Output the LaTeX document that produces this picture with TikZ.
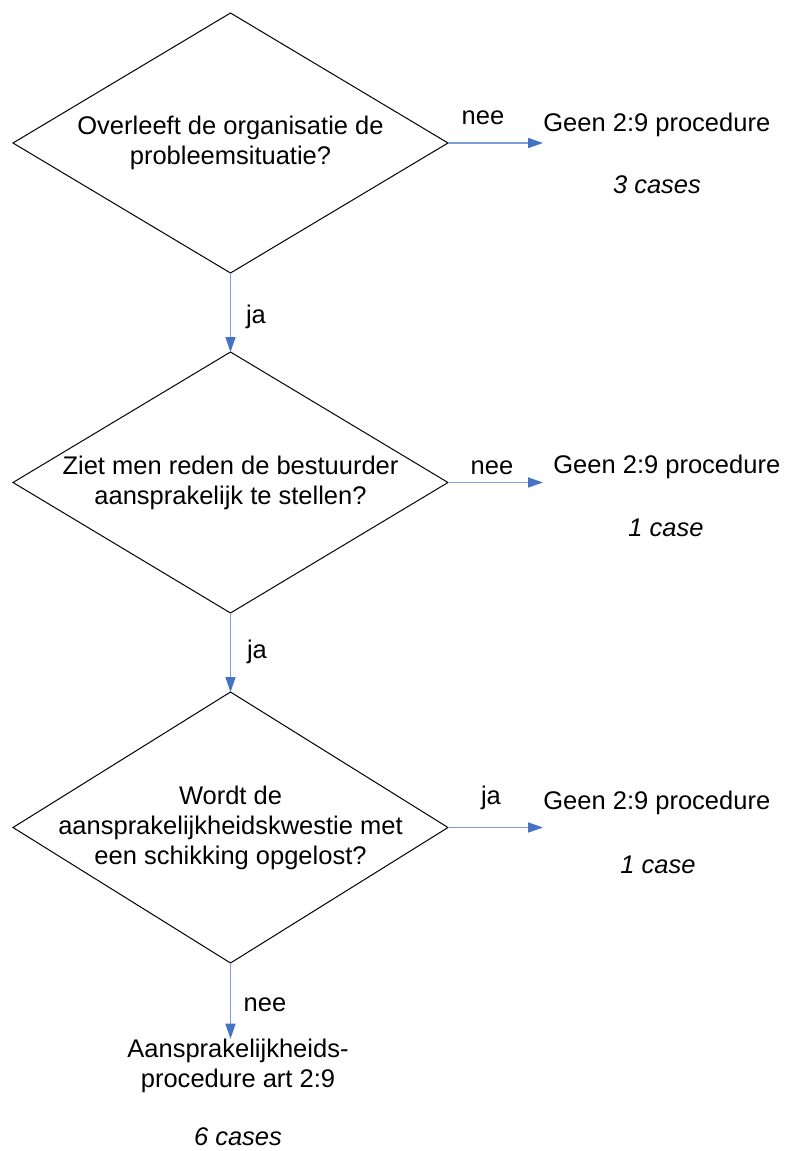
\documentclass[tikz,border=0pt]{standalone}
\usepackage{fontspec}
\setmainfont{Liberation Sans}
\usepackage{tikz}
\usetikzlibrary{arrows.meta,shapes.geometric}
\definecolor{arrowblue}{RGB}{68,114,196}
\definecolor{arrowline}{RGB}{125,158,212}

\begin{document}
\begin{tikzpicture}[x=0.5pt,y=-0.5pt,
  every node/.style={font=\fontsize{12.75}{15}\selectfont, inner sep=0pt},
  decision/.style={diamond, draw, line width=0.5pt, minimum width=217.5pt, minimum height=130pt, outer sep=0pt},
  qtext/.style={align=center},
  casetext/.style={font=\fontsize{12.75}{15}\selectfont\itshape},
  flow/.style={draw=arrowline, line width=0.75pt, -{Triangle[length=7.5pt,width=5pt,color=arrowblue]}}]
\useasboundingbox (0,0) rectangle (785,1151);

% vragen
\node[decision] (q1) at (230.5,143) {};
\node[qtext] (q1t) at (q1) {Overleeft de organisatie de\\probleemsituatie?};
\node[decision, minimum height=130.5pt] (q2) at (230.5,482.5) {};
\node[qtext] (q2t) at (q2) {Ziet men reden de bestuurder\\aansprakelijk te stellen?};
\node[decision, minimum height=135.5pt] (q3) at (230.5,827.5) {};
\node[qtext] (q3t) at (q3) {Wordt de\\aansprakelijkheidskwestie met\\een schikking opgelost?};

% uitkomsten
\node[anchor=west] (r1) at (543,125) {Geen 2:9 procedure};
\node[casetext] (c1) at (657,185) {3 cases};
\node[anchor=west, inner xsep=5pt] (r2) at (543,467) {Geen 2:9 procedure};
\node[casetext] (c2) at (666,528) {1 case};
\node[anchor=west] (r3) at (543,803) {Geen 2:9 procedure};
\node[casetext] (c3) at (658,865) {1 case};
\node[qtext] (r4) at (238,1066) {Aansprakelijkheids-\\procedure art 2:9};
\node[casetext] (c4) at (238,1137) {6 cases};

% labels bij de pijlen
\node (l1) at (483,118) {nee};
\node (l2) at (492,468) {nee};
\node (l3) at (491,798) {ja};
\node (l4) at (256,317) {ja};
\node (l5) at (257,652) {ja};
\node (l6) at (265,1005) {nee};

\draw[flow] (q1.east) -- (q1.east -| r1.west);
\draw[flow] (q2.east) -- (q2.east -| r2.west);
\draw[flow] (q3.east) -- (q3.east -| r3.west);
\draw[flow] (q1.south) -- (q2.north);
\draw[flow] (q2.south) -- (q3.north);
\draw[flow] (q3.south) -- (q3.south |- r4.north);
\end{tikzpicture}
\end{document}
